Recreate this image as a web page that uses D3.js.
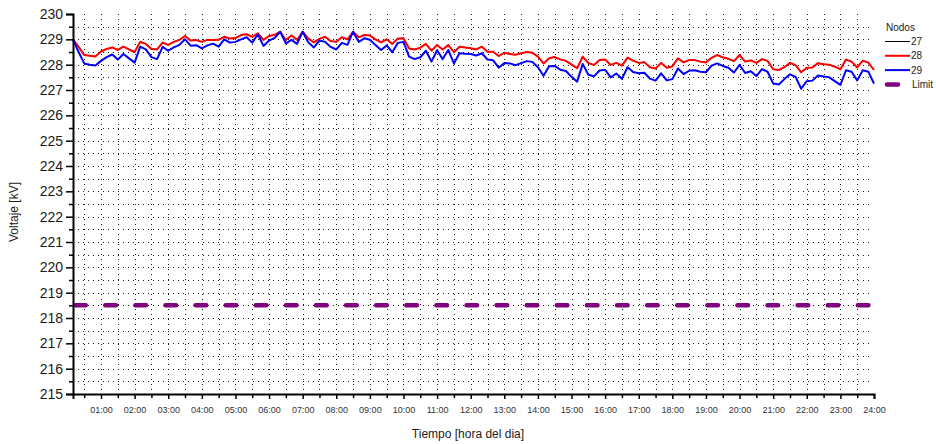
<!DOCTYPE html>
<html>
<head>
<meta charset="utf-8">
<script src="https://cdn.jsdelivr.net/npm/d3@7"></script>
<style>
  html, body { margin: 0; padding: 0; background: #fff; }
  svg { display: block; font-family: "Liberation Sans", Arial, sans-serif; }
</style>
</head>
<body>
<svg id="chart" width="936" height="444"></svg>
<script>
// Sample times, in minutes after midnight (every 10 minutes, 00:10 .. 24:00)
const minutes = d3.range(10, 1441, 10);

// Hour labels on the time axis
const hourLabels = ["01:00","02:00","03:00","04:00","05:00","06:00","07:00","08:00",
  "09:00","10:00","11:00","12:00","13:00","14:00","15:00","16:00","17:00","18:00",
  "19:00","20:00","21:00","22:00","23:00","24:00"];

// Voltage tick labels
const voltTicks = [215,216,217,218,219,220,221,222,223,224,225,226,227,228,229,230];

// Node 28 voltage [kV], one row per hour
const node28 = [
  229.0, 228.7, 228.38, 228.35, 228.32, 228.52,
  228.62, 228.68, 228.58, 228.71, 228.6, 228.5,
  228.9, 228.82, 228.62, 228.6, 228.87, 228.78,
  228.9, 228.98, 229.13, 228.95, 228.97, 228.9,
  228.98, 228.97, 228.98, 229.1, 229.03, 229.05,
  229.17, 229.2, 229.1, 229.24, 228.98, 229.13,
  229.18, 229.3, 228.97, 229.15, 228.98, 229.3,
  229.03, 228.88, 229.02, 229.1, 228.93, 228.9,
  229.08, 229.0, 229.3, 229.08, 229.17, 229.15,
  229.0, 228.88, 229.0, 228.82, 229.03, 229.04,
  228.64, 228.6, 228.67, 228.82, 228.55, 228.78,
  228.6, 228.77, 228.49, 228.71, 228.68, 228.65,
  228.6, 228.71, 228.51, 228.51, 228.34, 228.47,
  228.42, 228.39, 228.45, 228.5, 228.47, 228.32,
  228.05, 228.25, 228.3, 228.21, 228.15, 228.0,
  227.86, 228.32, 228.06, 227.99, 228.18, 228.2,
  227.99, 228.07, 227.96, 228.28, 228.16, 228.07,
  228.1, 227.9, 227.85, 228.07, 227.88, 227.93,
  228.25, 228.09, 228.18, 228.18, 228.12, 228.09,
  228.27, 228.38, 228.29, 228.23, 228.14, 228.38,
  228.12, 228.17, 228.07, 228.22, 228.15, 227.82,
  227.79, 227.9, 228.07, 227.98, 227.7, 227.88,
  227.89, 228.06, 228.02, 228.0, 227.92, 227.82,
  228.2, 228.12, 227.89, 228.16, 228.08, 227.79
];

// Node 27 voltage [kV] (coincides with node 28)
const node27 = node28.slice();

// Node 29 voltage [kV], one row per hour
const node29 = [
  229.0, 228.5, 228.05, 228.0, 227.97, 228.15,
  228.3, 228.4, 228.2, 228.42, 228.25, 228.08,
  228.71, 228.6, 228.3, 228.22, 228.7, 228.55,
  228.68, 228.78, 229.0, 228.75, 228.77, 228.64,
  228.76, 228.83, 228.71, 229.0, 228.87, 228.9,
  229.0, 229.08, 228.87, 229.2, 228.74, 228.95,
  229.06, 229.3, 228.84, 228.98, 228.82, 229.3,
  228.88, 228.68, 228.95, 228.9, 228.7, 228.6,
  228.86, 228.78, 229.3, 228.9, 229.04, 228.98,
  228.78, 228.58, 228.76, 228.49, 228.86, 228.9,
  228.32, 228.22, 228.29, 228.55, 228.12, 228.57,
  228.22, 228.58, 228.05, 228.45, 228.43, 228.42,
  228.36, 228.45, 228.2, 228.17, 227.88, 228.07,
  228.05, 227.98, 228.06, 228.14, 228.11, 227.9,
  227.56, 227.94, 227.95, 227.8, 227.75, 227.52,
  227.33, 228.03, 227.6, 227.54, 227.77, 227.8,
  227.5, 227.65, 227.44, 227.9, 227.71, 227.66,
  227.68, 227.45, 227.37, 227.66, 227.38, 227.43,
  227.85, 227.63, 227.76, 227.78, 227.72, 227.7,
  227.96, 228.05, 227.95, 227.88, 227.69, 227.99,
  227.67, 227.74, 227.55, 227.82, 227.72, 227.26,
  227.22, 227.43, 227.62, 227.52, 227.05, 227.35,
  227.37, 227.57, 227.53, 227.5, 227.35, 227.2,
  227.78, 227.72, 227.38, 227.78, 227.72, 227.25
];

// Lower voltage limit [kV]
const limitValue = 218.5;

const seriesNames = ["27", "28", "29"];
const seriesColors = ["#000000", "#ff0000", "#0000ff"];
const seriesWidths = [1, 2, 2];
const limitColor = "#800080";

const svg = d3.select("#chart");
const x = d3.scaleLinear().domain([10, 1440]).range([73, 874]);
const y = d3.scaleLinear().domain([215, 230]).range([394, 14]);

// Dotted grid: every half hour and every half kilovolt
const halfHours = d3.range(30, 1440, 30);
const halfVolts = d3.range(215.5, 230, 0.5);
const grid = svg.append("g").attr("stroke", "#1a1a1a").attr("stroke-width", 1)
  .attr("stroke-dasharray", "1,4").attr("shape-rendering", "crispEdges");
grid.selectAll("line.v").data(halfHours).join("line").attr("class", "v")
  .attr("x1", d => Math.round(x(d)) + 0.5).attr("x2", d => Math.round(x(d)) + 0.5)
  .attr("y1", y(230)).attr("y2", y(215));
grid.selectAll("line.h").data(halfVolts).join("line").attr("class", "h")
  .attr("x1", x(10)).attr("x2", x(1440) - 3)
  .attr("y1", d => Math.round(y(d)) + 0.5).attr("y2", d => Math.round(y(d)) + 0.5);

// Limit line
svg.append("line")
  .attr("x1", x(10) + 2.2).attr("x2", x(1440))
  .attr("y1", y(limitValue)).attr("y2", y(limitValue))
  .attr("stroke", limitColor).attr("stroke-width", 4.5)
  .attr("stroke-linecap", "round").attr("stroke-dasharray", "10.6,19.5");

// Node series
const line = d3.line().x((d, i) => x(minutes[i])).y(d => y(d));
[node27, node28, node29].forEach((vals, i) => {
  svg.append("path").datum(vals)
    .attr("fill", "none").attr("stroke", seriesColors[i])
    .attr("stroke-width", seriesWidths[i]).attr("stroke-linejoin", "round")
    .attr("d", line);
});

// Voltage axis
const yAxis = d3.axisLeft(y).tickValues(voltTicks).tickSize(7).tickPadding(3)
  .tickFormat(d3.format("d"));
const gy = svg.append("g").attr("transform", "translate(73,0)").call(yAxis);
gy.selectAll(".tick line").attr("stroke-width", 1.5);
gy.select(".domain").attr("stroke-width", 2);
gy.selectAll("text").attr("font-size", 14).attr("fill", "#1a1a1a")
  .attr("font-family", "'Liberation Sans', Arial, sans-serif");
const yMinor = d3.axisLeft(y).tickValues(d3.range(215.5, 230, 1)).tickSize(4).tickFormat("");
const gym = svg.append("g").attr("transform", "translate(73,0)").call(yMinor);
gym.select(".domain").remove();
gym.selectAll(".tick line").attr("stroke-width", 1.5);

// Time axis
const hourMinutes = hourLabels.map((_, i) => (i + 1) * 60);
const xAxis = d3.axisBottom(x).tickValues(hourMinutes).tickSize(5).tickPadding(8)
  .tickFormat((d, i) => hourLabels[i]);
const gx = svg.append("g").attr("transform", "translate(0,394)").call(xAxis);
gx.select(".domain").attr("stroke-width", 2);
gx.selectAll(".tick line").attr("stroke-width", 1.5);
gx.selectAll("text").attr("font-size", 9).attr("fill", "#333")
  .attr("font-family", "'Liberation Sans', Arial, sans-serif");
const xMinor = d3.axisBottom(x).tickValues(d3.range(30, 1440, 60)).tickSize(4).tickFormat("");
const gxm = svg.append("g").attr("transform", "translate(0,394)").call(xMinor);
gxm.select(".domain").remove();
gxm.selectAll(".tick line").attr("stroke-width", 1.5);

// Axis titles
svg.append("text").attr("x", 468).attr("y", 438).attr("text-anchor", "middle")
  .attr("font-size", 12).attr("fill", "#222").text("Tiempo [hora del dia]");
svg.append("text").attr("transform", "translate(18,212) rotate(-90)")
  .attr("text-anchor", "middle").attr("font-size", 12).attr("fill", "#222")
  .text("Voltaje [kV]");

// Legend
const lg = svg.append("g").attr("font-size", 10).attr("fill", "#222");
lg.append("text").attr("x", 886).attr("y", 31).text("Nodos");
seriesNames.forEach((name, i) => {
  const yy = 41.5 + i * 14.3;
  lg.append("line").attr("x1", 885).attr("x2", 910).attr("y1", yy).attr("y2", yy)
    .attr("stroke", seriesColors[i]).attr("stroke-width", seriesWidths[i]);
  lg.append("text").attr("x", 911).attr("y", yy + 3.5).text(name);
});
const ly = 41.5 + 3 * 14.3;
lg.append("line").attr("x1", 887).attr("x2", 898).attr("y1", ly).attr("y2", ly)
  .attr("stroke", limitColor).attr("stroke-width", 4.5).attr("stroke-linecap", "round");
lg.append("text").attr("x", 912).attr("y", ly + 3.5).text("Limit");
</script>
</body>
</html>
